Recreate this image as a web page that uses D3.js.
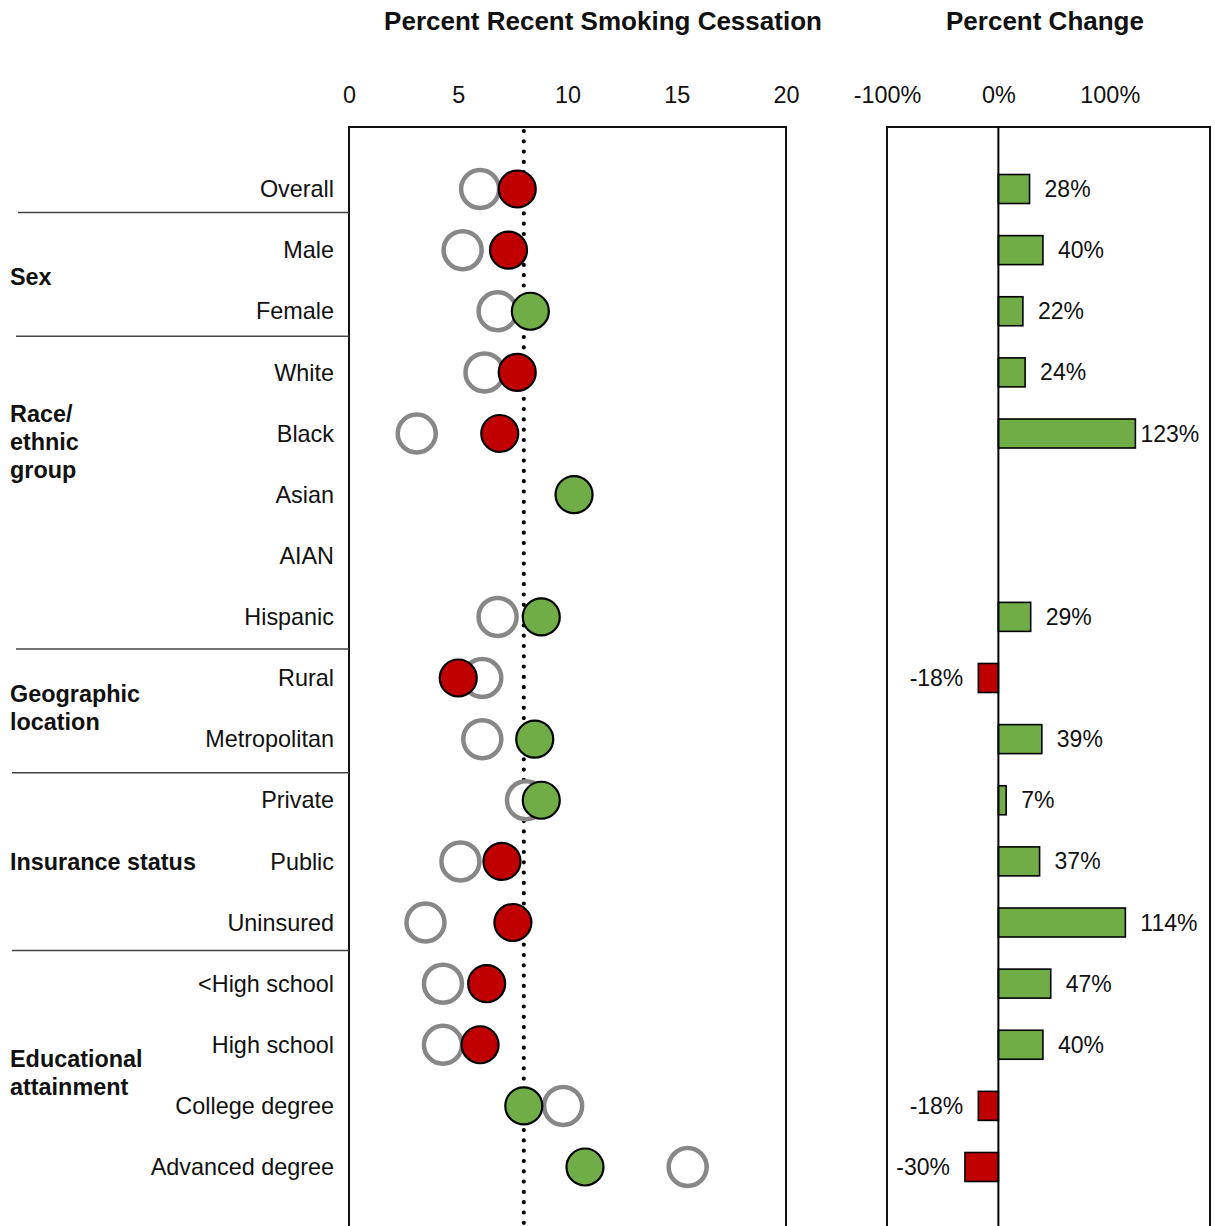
<!DOCTYPE html>
<html><head><meta charset="utf-8">
<script src="https://cdn.jsdelivr.net/npm/d3@7"></script>
<style>body{margin:0;background:#fff}svg{display:block}text{font-family:"Liberation Sans",Arial,sans-serif}</style>
</head><body><svg id="c" width="1215" height="1226"></svg>
<script>
const categories = ["Overall","Male","Female","White","Black","Asian","AIAN","Hispanic","Rural","Metropolitan","Private","Public","Uninsured","<High school","High school","College degree","Advanced degree"];
const earlier = [6.0,5.2,6.8,6.2,3.1,null,null,6.8,6.1,6.1,8.1,5.1,3.5,4.3,4.3,9.8,15.5];
const recent  = [7.7,7.3,8.3,7.7,6.9,10.3,null,8.8,5.0,8.5,8.8,7.0,7.5,6.3,6.0,8.0,10.8];
const pctChange = [28,40,22,24,123,null,null,29,-18,39,7,37,114,47,40,-18,-30];
const aboveRef = [false,false,true,false,false,true,null,true,false,true,true,false,false,false,false,true,true];
const refValue = 8.0;
const leftTicks = [0,5,10,15,20];
const rightTicks = [-100,0,100];
const groupNames = [["Sex"],["Race/","ethnic","group"],["Geographic","location"],["Insurance status"],["Educational","attainment"]];
const groupRows = [["Male","Female"],["Black"],["Rural","Metropolitan"],["Public"],["High school","College degree"]];
const separatorsAfter = ["Overall","Female","Hispanic","Metropolitan","Uninsured"];

(function(){
const svg = d3.select("#c");
const RED = "#C00000", GREEN = "#70AD47", GRAY = "#878787";
const FS = 23.4;
const groupDy = [-3.5, 8, -0.5, 0, -3];
const sepStart = [18,16,16,12,12];
const sepDy = [-7,-5.5,1.5,3,-2.5];

const y = d3.scalePoint().domain(categories).range([189, 1167]);
const step = y.step();
const x = d3.scaleLinear().domain([0,20]).range([349,786]);
const xc = d3.scaleLinear().domain([-100,190]).range([887,1210]);
const T = 127, B = 1240;

svg.append("text").attr("x",603).attr("y",30).attr("text-anchor","middle")
  .attr("font-size",26).attr("font-weight","bold").attr("fill","#111").text("Percent Recent Smoking Cessation");
svg.append("text").attr("x",1045).attr("y",30).attr("text-anchor","middle")
  .attr("font-size",26).attr("font-weight","bold").attr("fill","#111").text("Percent Change");

const axL = svg.append("g").attr("transform",`translate(0,${T})`)
  .call(d3.axisTop(x).tickValues(leftTicks).tickSize(0).tickPadding(24));
axL.select(".domain").remove();
axL.selectAll("text").attr("font-size",FS).attr("font-family","Liberation Sans, Arial, sans-serif").attr("fill","#111");

const axR = svg.append("g").attr("transform",`translate(0,${T})`)
  .call(d3.axisTop(xc).tickValues(rightTicks).tickSize(0).tickPadding(24).tickFormat(d=>d+"%"));
axR.select(".domain").remove();
axR.selectAll("text").attr("font-size",FS).attr("font-family","Liberation Sans, Arial, sans-serif").attr("fill","#111");

svg.append("rect").attr("x",x(0)).attr("y",T).attr("width",x(20)-x(0)).attr("height",B-T)
  .attr("fill","none").attr("stroke","#111").attr("stroke-width",2);
svg.append("rect").attr("x",xc(-100)).attr("y",T).attr("width",xc(190)-xc(-100)).attr("height",B-T)
  .attr("fill","none").attr("stroke","#111").attr("stroke-width",2);

svg.append("line").attr("x1",x(refValue)).attr("x2",x(refValue)).attr("y1",T+4).attr("y2",B)
  .attr("stroke","#000").attr("stroke-width",4.2).attr("stroke-linecap","round").attr("stroke-dasharray","0,10.3");

svg.append("g").selectAll("text").data(categories).join("text")
  .attr("x",334).attr("y",d=>y(d)).attr("dy","0.35em").attr("text-anchor","end")
  .attr("font-size",FS).attr("fill","#111").text(d=>d);

svg.append("g").selectAll("line").data(separatorsAfter).join("line")
  .attr("x1",(d,i)=>sepStart[i]).attr("x2",x(0)).attr("y1",(d,i)=>y(d)+step/2+sepDy[i]).attr("y2",(d,i)=>y(d)+step/2+sepDy[i])
  .attr("stroke","#444").attr("stroke-width",1.5);

groupNames.forEach((lines,gi)=>{
  const cy = d3.mean(groupRows[gi], r=>y(r)) + groupDy[gi];
  const lh = 28;
  const t = svg.append("text").attr("x",10).attr("font-size",FS).attr("font-weight","bold").attr("fill","#111");
  lines.forEach((l,i)=>{
    t.append("tspan").attr("x",10).attr("y",cy + (i-(lines.length-1)/2)*lh).attr("dy","0.35em").text(l);
  });
});

const rows = categories.map((c,i)=>({c, e:earlier[i], r:recent[i], p:pctChange[i], up:aboveRef[i]}));
svg.append("g").selectAll("circle").data(rows.filter(d=>d.e!=null)).join("circle")
  .attr("cx",d=>x(d.e)).attr("cy",d=>y(d.c)).attr("r",19)
  .attr("fill","#fff").attr("stroke",GRAY).attr("stroke-width",4.5);
svg.append("g").selectAll("circle").data(rows.filter(d=>d.r!=null)).join("circle")
  .attr("cx",d=>x(d.r)).attr("cy",d=>y(d.c)).attr("r",18.5)
  .attr("fill",d=>d.up?GREEN:RED).attr("stroke","#000").attr("stroke-width",2.2);

const bh = 29;
const bars = rows.filter(d=>d.p!=null);
svg.append("g").selectAll("rect").data(bars).join("rect")
  .attr("x",d=>xc(Math.min(0,d.p))).attr("y",d=>y(d.c)-bh/2)
  .attr("width",d=>Math.abs(xc(d.p)-xc(0))).attr("height",bh)
  .attr("fill",d=>d.p>=0?GREEN:RED).attr("stroke","#000").attr("stroke-width",1.6);
const labels = svg.append("g").selectAll("text").data(bars).join("text")
  .attr("x",d=>d.p>=0?xc(d.p)+15:xc(d.p)-15).attr("y",d=>y(d.c)).attr("dy","0.35em")
  .attr("text-anchor",d=>d.p>=0?"start":"end").attr("font-size",23).attr("fill","#111")
  .text(d=>d.p+"%");
// keep labels inside the panel
const maxRight = xc(190) - 11;
labels.each(function(d){
  if (d.p < 0) return;
  const w = this.getComputedTextLength();
  const x0 = +this.getAttribute("x");
  if (x0 + w > maxRight) this.setAttribute("x", Math.max(xc(d.p)+5, maxRight - w));
});
svg.append("line").attr("x1",xc(0)).attr("x2",xc(0)).attr("y1",T).attr("y2",B)
  .attr("stroke","#000").attr("stroke-width",2);
})();
</script></body></html>
